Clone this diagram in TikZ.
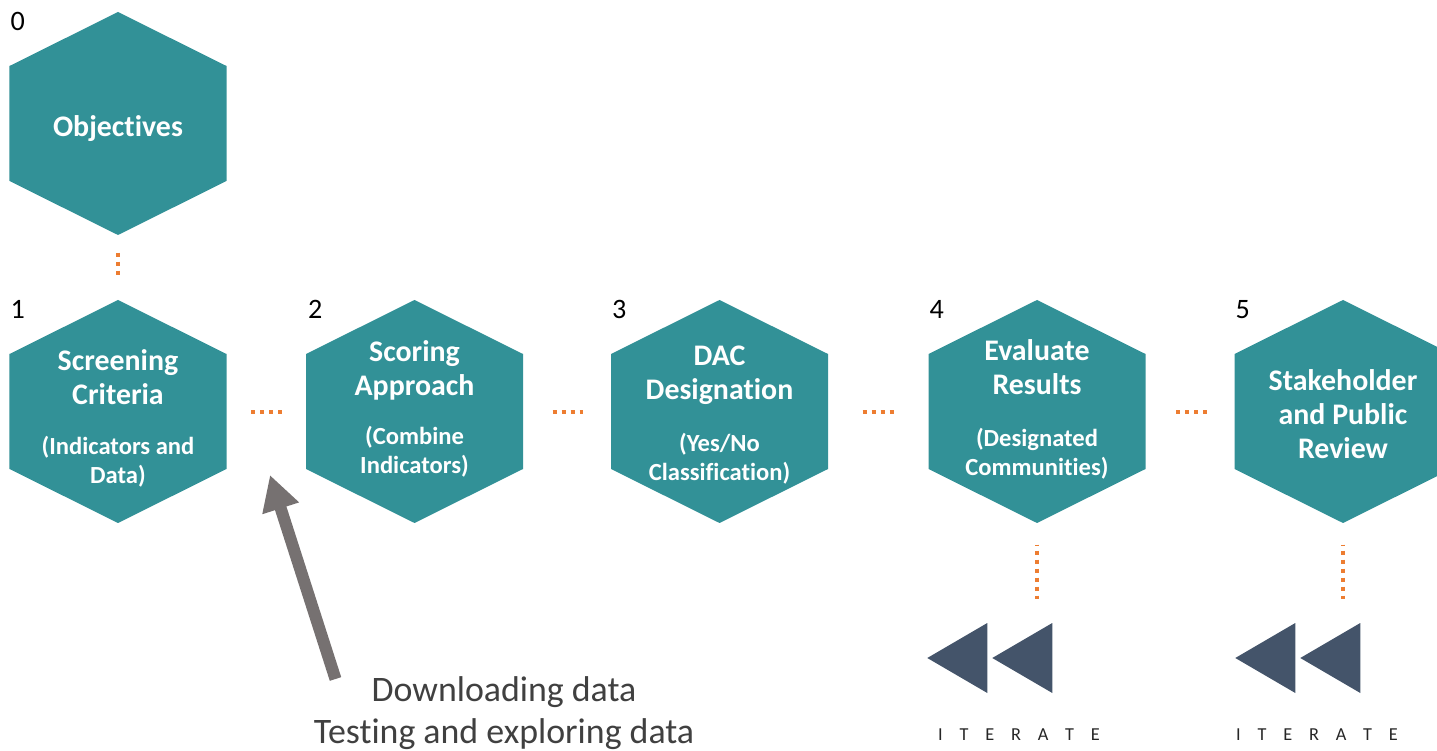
\documentclass[tikz,border=0pt]{standalone}
\usepackage{fontspec}
\setmainfont{Carlito}[Ligatures=NoCommon]
\usetikzlibrary{arrows.meta,calc}
\definecolor{hexteal}{RGB}{50,145,151}
\definecolor{dotorange}{RGB}{237,125,49}
\definecolor{rewindslate}{RGB}{68,84,106}
\definecolor{arrowgray}{RGB}{118,113,113}
\definecolor{notegray}{RGB}{64,64,64}

\newcommand{\iterword}{I\hspace{0.92em}T\hspace{0.92em}E\hspace{0.92em}R\hspace{0.92em}A\hspace{0.92em}T\hspace{0.92em}E}

\begin{document}
\begin{tikzpicture}[
    hexa/.style={minimum width=2.17cm, minimum height=2.23cm, inner sep=0pt,
      path picture={\fill[hexteal] (path picture bounding box.north) -- ++(1.085,-0.54) -- ++(0,-1.15)
        -- ++(-1.085,-0.54) -- ++(-1.085,0.54) -- ++(0,1.15) -- cycle;}},
    title/.style={text=white, font=\fontsize{8.5}{9.7}\selectfont\bfseries, align=center},
    sub/.style={text=white, font=\fontsize{7}{8.25}\selectfont\bfseries, align=center},
    num/.style={font=\fontsize{8}{9}\selectfont},
    dotline/.style={dotorange, line width=0.04cm, dash pattern=on 0.04cm off 0.05cm},
    rewind/.style={minimum width=1.25cm, minimum height=0.7cm, inner sep=0pt},
    iter/.style={font=\fontsize{5.2}{6}\selectfont, text=black!85},
  ]
  \useasboundingbox (0,0) rectangle (14.37,7.5);

  % hexagons
  \node[hexa] (h0) at (1.18, 6.265) {};
  \node[hexa] (h1) at (1.18, 3.385) {};
  \node[hexa] (h2) at (4.145, 3.385) {};
  \node[hexa] (h3) at (7.195, 3.385) {};
  \node[hexa] (h4) at (10.37, 3.385) {};
  \node[hexa] (h5) at (13.43, 3.385) {};

  % step numbers
  \node[num] (n0) at ($(h0.north west)+(0.09,-0.105)$) {0};
  \node[num] (n1) at ($(h1.north west)+(0.09,-0.10)$) {1};
  \node[num] (n2) at ($(h2.north west)+(0.10,-0.10)$) {2};
  \node[num] (n3) at ($(h3.north west)+(0.09,-0.10)$) {3};
  \node[num] (n4) at ($(h4.north west)+(0.09,-0.10)$) {4};
  \node[num] (n5) at ($(h5.north west)+(0.09,-0.10)$) {5};

  % texts
  \node[title] (t0) at (1.18, 6.21) {Objectives};
  \node[title] (t1) at (1.18, 3.73) {Screening\\Criteria};
  \node[sub]   (s1) at (1.18, 2.885) {(Indicators and\\Data)};
  \node[title] (t2) at (4.145, 3.80) {Scoring\\Approach};
  \node[sub]   (s2) at (4.145, 2.98) {(Combine\\Indicators)};
  \node[title] (t3) at (7.195, 3.75) {DAC\\Designation};
  \node[sub]   (s3) at (7.195, 2.91) {(Yes/No\\Classification)};
  \node[title] (t4) at (10.37, 3.825) {Evaluate\\Results};
  \node[sub]   (s4) at (10.37, 2.96) {(Designated\\Communities)};
  \node[title] (t5) at (13.43, 3.36) {Stakeholder\\and Public\\Review};

  % dotted links
  \draw[dotline, shorten <=0.17cm, shorten >=0.21cm] (h0.south) -- (h1.north);
  \draw[dotline, shorten <=0.24cm, shorten >=0.23cm] (h1.east) -- (h2.west);
  \draw[dotline, shorten <=0.29cm, shorten >=0.27cm] (h2.east) -- (h3.west);
  \draw[dotline, shorten <=0.34cm, shorten >=0.34cm] (h3.east) -- (h4.west);
  \draw[dotline, shorten <=0.30cm, shorten >=0.26cm] (h4.east) -- (h5.west);

  % iterate
  \node[rewind] (r4) at (9.905, 0.92) {};
  \node[rewind] (r5) at (12.985, 0.92) {};
  \fill[rewindslate] (r4.west) -- ++(0.6,0.35) -- ++(0,-0.7) -- cycle;
  \fill[rewindslate] ($(r4.west)+(0.65,0)$) -- ++(0.6,0.35) -- ++(0,-0.7) -- cycle;
  \fill[rewindslate] (r5.west) -- ++(0.6,0.35) -- ++(0,-0.7) -- cycle;
  \fill[rewindslate] ($(r5.west)+(0.65,0)$) -- ++(0.6,0.35) -- ++(0,-0.7) -- cycle;
  \draw[dotline, dash phase=0.03cm, shorten <=0.21cm, shorten >=0.23cm] (h4.south) -- (h4.south |- r4.north);
  \draw[dotline, dash phase=0.03cm, shorten <=0.21cm, shorten >=0.23cm] (h5.south) -- (h5.south |- r5.north);
  \node[iter] (it4) at (10.19, 0.15) {\iterword};
  \node[iter] (it5) at (13.17, 0.15) {\iterword};

  % note
  \node[text=notegray, font=\fontsize{10.2}{11.95}\selectfont, align=center] (dl) at (5.04, 0.365)
    {Downloading data\\Testing and exploring data};
  \coordinate (dtail) at (3.355, 0.71);
  \coordinate (dtip) at (2.70, 2.75);
  \draw[arrowgray, line width=0.12cm, -{Triangle[length=0.35cm, width=0.36cm]}] (dtail) -- (dtip);
\end{tikzpicture}
\end{document}
